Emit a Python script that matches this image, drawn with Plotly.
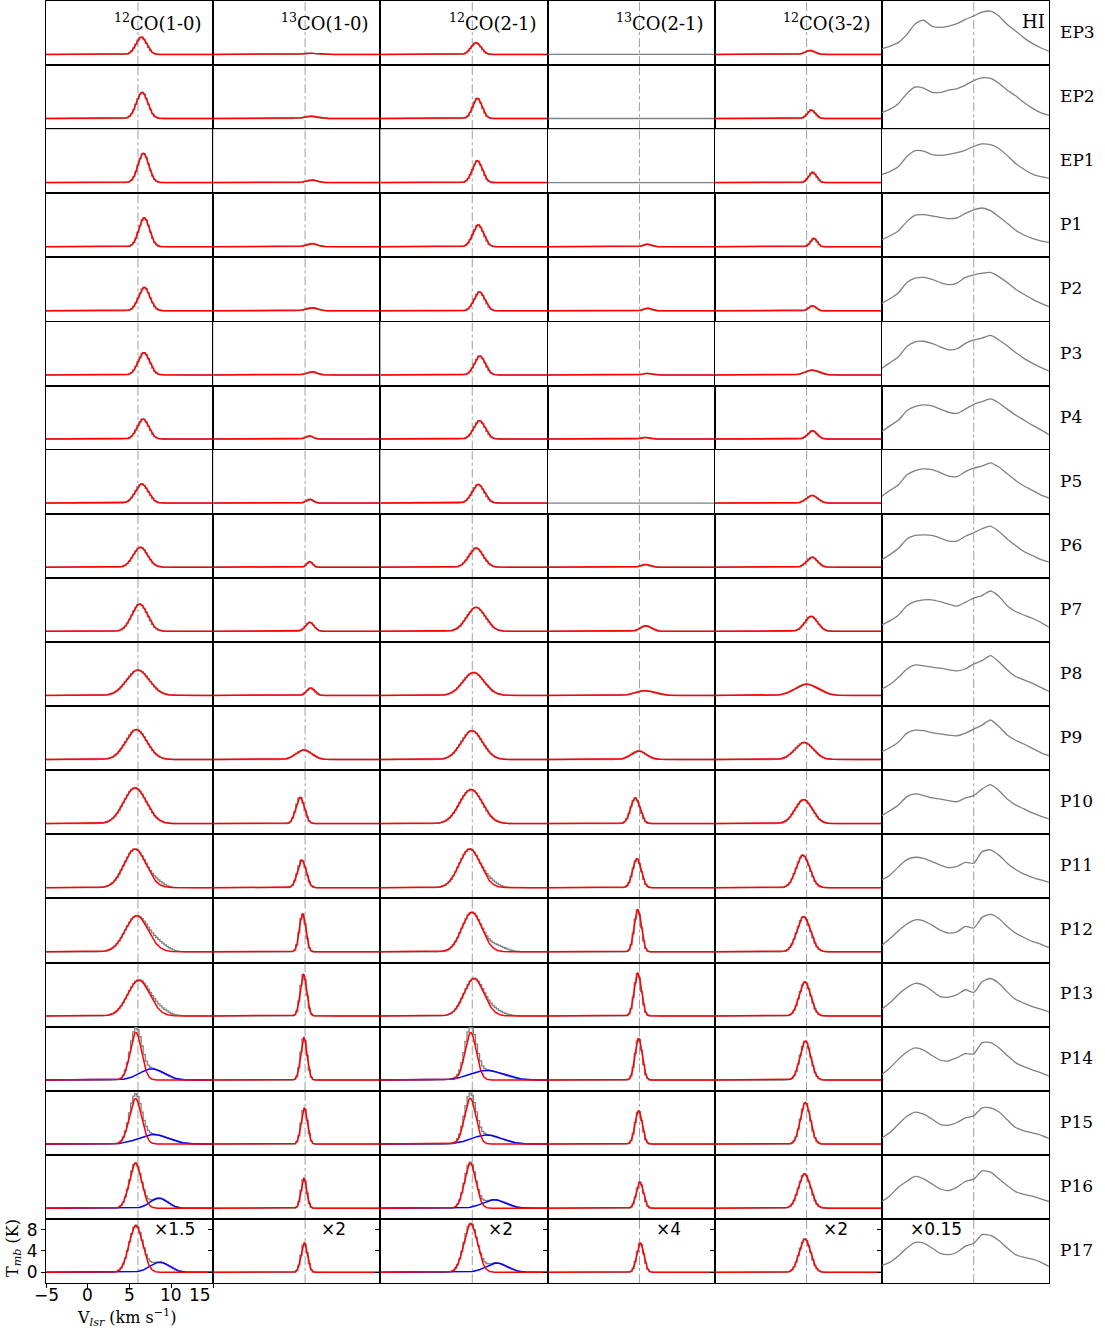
import numpy as np
import plotly.graph_objects as go
from plotly.subplots import make_subplots

# ---------------- data ----------------
rows = ["EP3", "EP2", "EP1", "P1", "P2", "P3", "P4", "P5", "P6", "P7", "P8",
        "P9", "P10", "P11", "P12", "P13", "P14", "P15", "P16", "P17"]
columns = ["<sup>12</sup>CO(1-0)", "<sup>13</sup>CO(1-0)", "<sup>12</sup>CO(2-1)",
           "<sup>13</sup>CO(2-1)", "<sup>12</sup>CO(3-2)", "HI"]
scale_labels = ["×1.5", "×2", "×2", "×4", "×2", "×0.15"]
v_sys = 6.0
x_ticks = [-5, 0, 5, 10, 15]
x_tick_labels = ["−5", "0", "5", "10", "15"]
y_ticks = [0, 4, 8]

# Gaussian fit components (amplitude K as plotted, centre km/s, FWHM km/s)
co10_12_amp = [3.25, 4.9, 5.5, 5.4, 4.4, 4.2, 3.75, 3.6, 3.75, 5.1, 4.75, 5.6, 6.7, 7.25, 6.75, 6.7, 8.9, 8.55, 8.45, 8.75]
co10_12_cen = [6.4, 6.5, 6.65, 6.75, 6.75, 6.7, 6.6, 6.45, 6.3, 6.2, 6.0, 5.8, 5.65, 5.65, 5.85, 6.1, 5.75, 5.7, 5.7, 5.75]
co10_12_fwhm = [1.5, 1.6, 1.5, 1.5, 1.6, 1.6, 1.6, 1.8, 2.0, 2.2, 3.2, 3.0, 3.2, 3.1, 3.2, 3.1, 1.6, 1.7, 1.7, 1.9]

co10_13_amp = [0.25, 0.45, 0.5, 0.6, 0.6, 0.6, 0.6, 0.75, 1.05, 1.7, 1.4, 1.8, 4.95, 5.2, 7.1, 7.8, 7.95, 6.75, 5.6, 5.5]
co10_13_cen = [6.6, 6.6, 6.8, 6.8, 6.8, 6.8, 6.5, 6.55, 6.55, 6.55, 6.65, 5.85, 5.4, 5.6, 5.7, 5.8, 5.85, 5.9, 5.85, 5.9]
co10_13_fwhm = [1.6, 1.6, 1.5, 1.5, 1.6, 1.4, 1.0, 1.0, 0.8, 1.2, 1.1, 2.2, 1.2, 1.2, 0.9, 0.9, 0.9, 0.9, 0.8, 0.9]

co21_12_amp = [2.2, 3.8, 4.1, 4.1, 3.55, 3.55, 3.45, 3.5, 3.6, 4.5, 4.3, 5.4, 6.4, 7.25, 7.4, 7.0, 8.9, 8.6, 8.45, 9.1]
co21_12_cen = [6.45, 6.6, 6.6, 6.7, 6.85, 6.9, 6.85, 6.7, 6.45, 6.45, 6.15, 5.95, 5.85, 5.7, 5.95, 6.2, 5.8, 5.75, 5.75, 5.8]
co21_12_fwhm = [1.4, 1.3, 1.4, 1.5, 1.5, 1.5, 1.6, 1.7, 2.0, 2.6, 3.0, 3.0, 3.2, 3.0, 2.8, 2.8, 1.6, 1.6, 1.6, 1.9]

co21_13_amp = [None, None, None, 0.5, 0.5, 0.3, 0.3, None, 0.55, 1.05, 0.9, 1.6, 4.8, 5.4, 7.9, 8.0, 7.8, 6.25, 4.9, 5.5]
co21_13_cen = [None, None, None, 6.9, 6.9, 6.9, 6.65, None, 6.65, 6.75, 6.65, 5.9, 5.5, 5.7, 5.8, 5.8, 5.9, 5.9, 6.05, 6.1]
co21_13_fwhm = [None, None, None, 1.0, 1.0, 1.0, 1.0, None, 1.2, 1.5, 2.6, 2.1, 1.3, 1.2, 1.0, 1.0, 1.0, 1.0, 1.0, 1.0]

co32_12_amp = [0.75, 1.6, 1.95, 1.6, 0.95, 0.9, 1.55, 1.45, 1.9, 2.8, 2.1, 3.2, 4.5, 6.1, 6.6, 6.4, 7.3, 7.8, 6.45, 6.25]
co32_12_cen = [6.4, 6.55, 6.7, 6.85, 6.7, 6.65, 6.7, 6.65, 6.65, 6.55, 6.0, 5.7, 5.65, 5.55, 5.65, 5.8, 5.85, 5.85, 5.75, 5.8]
co32_12_fwhm = [1.3, 1.1, 1.1, 0.9, 1.0, 1.9, 1.3, 1.6, 1.5, 1.8, 3.2, 2.6, 2.4, 1.9, 1.9, 1.6, 1.5, 1.4, 1.7, 1.6]

# second (red-shifted, blue curve) components, rows P14..P17
blue_rows = ["P14", "P15", "P16", "P17"]
co10_12_b_amp = [2.1, 1.8, 1.9, 1.9]
co10_12_b_cen = [7.65, 7.85, 8.5, 8.6]
co10_12_b_fwhm = [3.4, 4.2, 2.4, 2.7]
co21_12_b_amp = [1.8, 1.7, 1.6, 1.75]
co21_12_b_cen = [7.7, 7.7, 8.6, 8.9]
co21_12_b_fwhm = [4.6, 4.2, 3.2, 3.0]

# unfitted red wings seen in the observed spectra: (column, row, amp, centre, fwhm)
wing_col = [0, 0, 0, 2, 2, 2]
wing_row = ["P11", "P12", "P13", "P11", "P12", "P13"]
wing_amp = [0.8, 1.3, 1.0, 0.8, 1.1, 0.9]
wing_cen = [8.3, 8.5, 8.6, 8.3, 8.9, 8.7]
wing_fwhm = [2.0, 2.5, 2.5, 2.0, 2.5, 2.5]

# HI profiles (K, x0.15) sampled at -5 ... 15 km/s
hi_v = [-5, -4, -3, -2, -1, 0, 1, 2, 3, 4, 5, 6, 7, 8, 9, 10, 11, 12, 13, 14, 15]
hi_EP3 = [1.06, 1.56, 2.25, 3.75, 5.75, 6.4, 5.25, 5.06, 5.3, 5.75, 6.56, 7.2, 7.9, 8.1, 7.2, 5.6, 4.4, 3.1, 2.06, 1.25, 0.6]
hi_EP2 = [1.1, 1.75, 2.8, 4.7, 5.9, 5.7, 4.9, 4.9, 5.3, 5.6, 6.25, 7.1, 7.6, 7.5, 6.6, 5.3, 4.25, 3.0, 1.95, 1.1, 0.6]
hi_EP1 = [1.5, 2.1, 3.0, 4.9, 6.0, 5.9, 5.25, 5.1, 5.3, 5.6, 6.1, 6.8, 7.25, 7.1, 6.4, 5.1, 3.6, 2.5, 1.6, 1.1, 0.8]
hi_P1 = [1.3, 2.05, 3.0, 4.7, 5.9, 6.0, 5.75, 5.5, 5.25, 5.4, 6.25, 6.9, 7.25, 6.75, 5.6, 4.4, 3.1, 2.2, 1.55, 1.1, 0.8]
hi_P2 = [1.4, 2.3, 3.4, 5.3, 6.1, 6.25, 5.9, 5.3, 4.9, 5.2, 6.25, 6.75, 7.05, 7.2, 6.4, 5.3, 4.05, 3.1, 2.2, 1.45, 0.8]
hi_P3 = [1.25, 2.3, 3.4, 5.3, 6.2, 6.3, 5.9, 5.25, 4.7, 4.9, 5.9, 6.55, 6.9, 7.4, 6.55, 5.45, 4.2, 3.1, 2.2, 1.4, 0.75]
hi_P4 = [1.4, 2.5, 3.55, 5.3, 6.1, 6.4, 6.2, 5.6, 5.0, 4.8, 5.6, 6.5, 7.0, 7.5, 6.75, 5.6, 4.5, 3.55, 2.6, 1.75, 0.8]
hi_P5 = [1.3, 2.4, 3.45, 5.3, 6.1, 6.4, 6.25, 5.7, 5.05, 4.95, 5.9, 6.55, 6.95, 7.55, 6.75, 5.5, 4.25, 3.2, 2.4, 1.55, 0.95]
hi_P6 = [1.4, 2.4, 3.55, 5.3, 5.95, 6.05, 5.95, 5.45, 4.9, 4.9, 5.8, 6.45, 7.2, 7.7, 6.7, 5.3, 4.05, 2.95, 2.2, 1.45, 0.95]
hi_P7 = [1.2, 2.0, 3.05, 4.8, 5.6, 5.9, 5.9, 5.55, 5.1, 4.7, 5.45, 6.2, 6.7, 7.55, 6.55, 4.8, 3.7, 3.05, 2.45, 1.7, 0.75]
hi_P8 = [1.2, 2.1, 3.4, 4.95, 5.7, 5.55, 5.3, 5.1, 4.8, 4.6, 4.95, 5.9, 6.5, 7.45, 6.3, 4.75, 3.55, 2.9, 2.3, 1.5, 0.75]
hi_P9 = [1.45, 2.25, 3.3, 4.95, 5.5, 5.4, 5.05, 4.8, 4.55, 4.45, 4.95, 5.7, 6.45, 7.4, 6.2, 4.6, 3.6, 2.9, 2.1, 1.3, 0.7]
hi_P10 = [1.5, 2.45, 3.5, 5.05, 5.55, 5.25, 4.8, 4.6, 4.3, 4.1, 4.8, 5.25, 6.5, 7.3, 6.2, 4.6, 3.5, 2.75, 2.0, 1.4, 0.9]
hi_P11 = [1.45, 2.4, 3.95, 5.25, 5.7, 5.5, 4.9, 4.25, 3.75, 4.0, 4.75, 4.6, 6.75, 7.1, 6.1, 4.6, 3.4, 2.55, 1.95, 1.45, 1.0]
hi_P12 = [1.25, 2.5, 3.95, 5.2, 6.0, 5.8, 5.0, 4.05, 3.5, 3.75, 4.75, 4.45, 6.45, 7.0, 6.25, 4.75, 3.5, 2.7, 1.95, 1.45, 0.8]
hi_P13 = [1.25, 2.5, 4.05, 5.3, 6.1, 5.75, 4.7, 3.6, 3.5, 4.0, 4.9, 4.4, 6.4, 7.0, 6.1, 4.5, 3.1, 2.4, 1.75, 1.25, 0.75]
hi_P14 = [1.05, 2.3, 3.9, 5.25, 6.0, 5.6, 4.6, 3.7, 3.6, 4.2, 4.95, 4.9, 7.0, 7.0, 6.05, 4.6, 3.25, 2.5, 1.9, 1.4, 0.75]
hi_P15 = [1.1, 2.2, 3.75, 5.2, 6.0, 5.6, 4.7, 3.7, 3.55, 4.05, 4.9, 5.3, 6.8, 6.8, 6.05, 4.55, 3.1, 2.5, 2.1, 1.7, 1.05]
hi_P16 = [1.25, 2.4, 3.95, 5.05, 5.95, 5.5, 4.55, 3.6, 3.3, 3.95, 5.0, 5.45, 7.0, 6.75, 5.5, 4.25, 3.1, 2.6, 2.25, 1.75, 1.25]
hi_P17 = [1.25, 1.9, 3.1, 4.55, 5.6, 5.45, 4.55, 3.55, 3.3, 3.75, 4.9, 5.45, 7.05, 6.9, 5.95, 4.55, 3.3, 2.8, 2.45, 1.9, 1.1]
hi_profiles = [hi_EP3, hi_EP2, hi_EP1, hi_P1, hi_P2, hi_P3, hi_P4, hi_P5, hi_P6, hi_P7,
               hi_P8, hi_P9, hi_P10, hi_P11, hi_P12, hi_P13, hi_P14, hi_P15, hi_P16, hi_P17]

# ---------------- figure ----------------
W, H = 1105, 1331
ML, MR, MT, MB = 46, 56, 1, 48
PW, PH = W - ML - MR, H - MT - MB
XMIN, XMAX = -5, 15


def px2x(px):
    return (px - ML) / PW


def py2y(py):
    return 1 - (py - MT) / PH


NR, NC = len(rows), len(columns)
fig = make_subplots(rows=NR, cols=NC, horizontal_spacing=0, vertical_spacing=0)

v_fine = np.linspace(XMIN, XMAX, 601)
v_chan = np.arange(XMIN, XMAX + 0.001, 0.25)


def gauss(v, a, c, fwhm):
    s = fwhm / 2.3548
    return a * np.exp(-0.5 * ((v - c) / s) ** 2)


GRAY = "#808080"
RED = "#ff0000"
BLUE = "#0000ff"

fits = [
    (co10_12_amp, co10_12_cen, co10_12_fwhm),
    (co10_13_amp, co10_13_cen, co10_13_fwhm),
    (co21_12_amp, co21_12_cen, co21_12_fwhm),
    (co21_13_amp, co21_13_cen, co21_13_fwhm),
    (co32_12_amp, co32_12_cen, co32_12_fwhm),
]
blues = {0: (co10_12_b_amp, co10_12_b_cen, co10_12_b_fwhm),
         2: (co21_12_b_amp, co21_12_b_cen, co21_12_b_fwhm)}

for r, rname in enumerate(rows):
    for c in range(NC):
        R, C = r + 1, c + 1
        # systemic velocity marker
        fig.add_trace(go.Scatter(x=[v_sys, v_sys], y=[-2, 10], mode="lines",
                                 line=dict(color="#888888", width=0.8, dash="dashdot"),
                                 showlegend=False, hoverinfo="skip"), row=R, col=C)
        if c == 5:
            fig.add_trace(go.Scatter(x=hi_v, y=hi_profiles[r], mode="lines",
                                     line=dict(color=GRAY, width=1.3, shape="spline", smoothing=0.6),
                                     showlegend=False), row=R, col=C)
            continue
        amp, cen, fw = fits[c]
        comps = []
        if amp[r] is not None:
            comps.append(("red", amp[r], cen[r], fw[r]))
        if c in blues and rname in blue_rows:
            k = blue_rows.index(rname)
            ba, bc, bf = blues[c]
            comps.append(("blue", ba[k], bc[k], bf[k]))
        obs = np.zeros_like(v_chan)
        for _, a, cc, f in comps:
            obs = obs + gauss(v_chan, a, cc, f)
        for i in range(len(wing_col)):
            if wing_col[i] == c and wing_row[i] == rname:
                obs = obs + gauss(v_chan, wing_amp[i], wing_cen[i], wing_fwhm[i])
        fig.add_trace(go.Scatter(x=v_chan, y=obs, mode="lines",
                                 line=dict(color=GRAY, width=1.3, shape="hvh"),
                                 showlegend=False), row=R, col=C)
        for kind in ("blue", "red"):
            for k2, a, cc, f in comps:
                if k2 != kind:
                    continue
                fig.add_trace(go.Scatter(x=v_fine, y=gauss(v_fine, a, cc, f), mode="lines",
                                         line=dict(color=RED if kind == "red" else BLUE, width=1.5),
                                         showlegend=False), row=R, col=C)

fig.update_xaxes(range=[XMIN, XMAX], showticklabels=False, showgrid=False, zeroline=False,
                 showline=True, mirror=True, linecolor="black", linewidth=1, ticks="")
fig.update_yaxes(range=[-2, 10], showticklabels=False, showgrid=False, zeroline=False,
                 showline=True, mirror=True, linecolor="black", linewidth=1, ticks="")

tickfont = dict(family="DejaVu Sans", size=17, color="black")
fig.update_xaxes(row=NR, col=1, ticks="outside", ticklen=4, tickvals=x_ticks,
                 tickcolor="black")
for c in range(1, NC + 1):
    fig.update_yaxes(row=NR, col=c, ticks="outside", ticklen=4, tickvals=y_ticks,
                     tickcolor="black")
fig.update_yaxes(row=NR, col=1, showticklabels=True, tickfont=tickfont)

col_w = PW / NC
row_h = PH / NR
annotations = []
serif = "DejaVu Serif"
for c, title in enumerate(columns):
    right = ML + col_w * (c + 1)
    inset = 2 if c == 5 else 9
    annotations.append(dict(x=px2x(right - inset), y=py2y(MT + 21), xref="paper", yref="paper",
                            text=title, showarrow=False, xanchor="right", yanchor="middle",
                            font=dict(family=serif, size=18, color="black")))
for c, lab in enumerate(scale_labels):
    left = ML + col_w * c
    off = 26 if c == 5 else 106
    annotations.append(dict(x=px2x(left + off), y=py2y(1229), xref="paper", yref="paper",
                            text=lab, showarrow=False, xanchor="left", yanchor="middle",
                            font=dict(family="DejaVu Sans", size=17, color="black")))
for r, rname in enumerate(rows):
    annotations.append(dict(x=px2x(1058), y=py2y(MT + row_h * r + 31), xref="paper", yref="paper",
                            text=rname, showarrow=False, xanchor="left", yanchor="middle",
                            font=dict(family=serif, size=17, color="black")))
# x tick labels of the lower-left panel (last one right-aligned on the panel edge)
for tv, tl in zip(x_ticks, x_tick_labels):
    px = ML + (tv - XMIN) / (XMAX - XMIN) * col_w
    anchor = "right" if tv == XMAX else "center"
    annotations.append(dict(x=px2x(px), y=py2y(1295), xref="paper", yref="paper",
                            text=tl, showarrow=False, xanchor=anchor, yanchor="middle",
                            font=tickfont))
annotations.append(dict(x=px2x(126), y=py2y(1317), xref="paper", yref="paper",
                        text="V<sub><i>lsr</i></sub> (km s<sup>−1</sup>)", showarrow=False,
                        xanchor="center", yanchor="middle",
                        font=dict(family=serif, size=16, color="black")))
annotations.append(dict(x=px2x(13), y=py2y(1248), xref="paper", yref="paper",
                        text="T<sub><i>mb</i></sub> (K)", showarrow=False, textangle=-90,
                        xanchor="center", yanchor="middle",
                        font=dict(family=serif, size=16, color="black")))

fig.update_layout(width=W, height=H, margin=dict(l=ML, r=MR, t=MT, b=MB),
                  paper_bgcolor="white", plot_bgcolor="white", showlegend=False,
                  annotations=annotations)

fig.write_html("out.html")
